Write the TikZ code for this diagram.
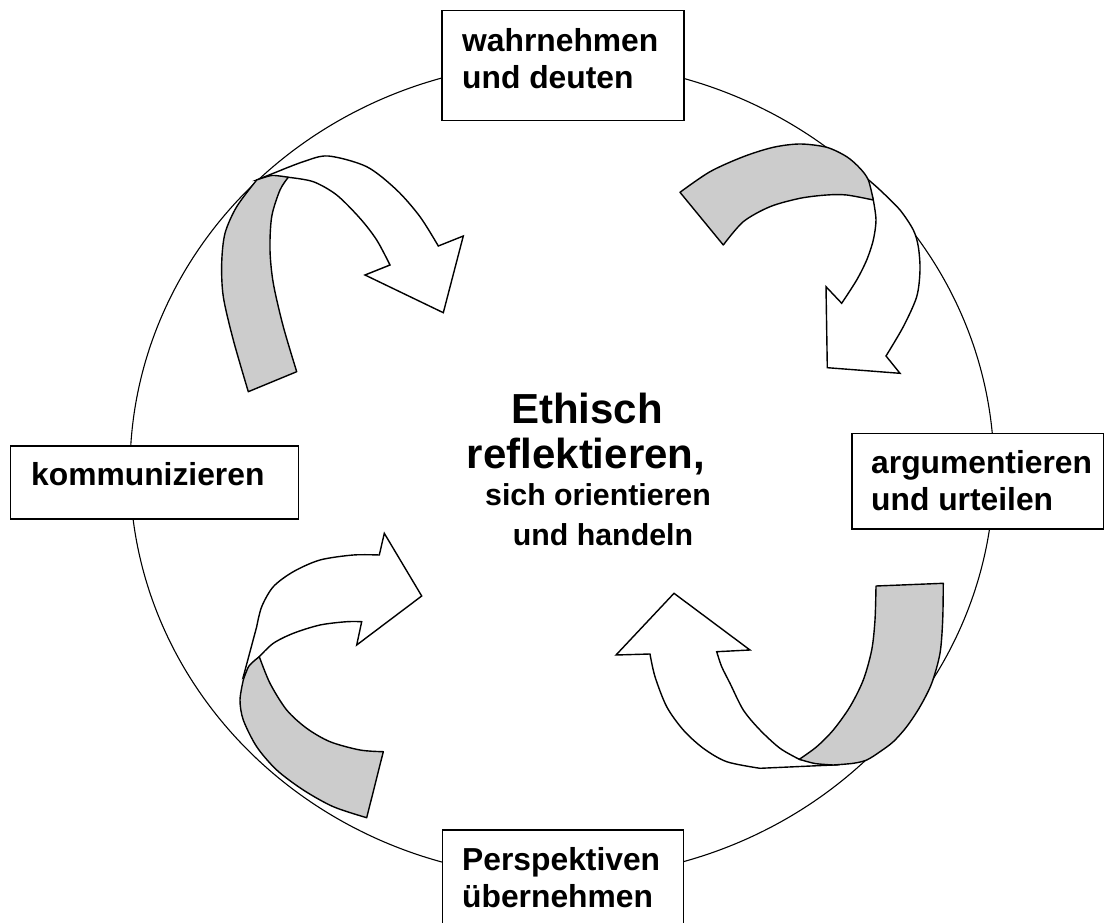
\documentclass[tikz,border=0pt]{standalone}
\usepackage{fontspec}
\setmainfont{Liberation Sans}
\begin{document}
\begin{tikzpicture}[x=1pt,y=-1pt,
  band/.style={draw=black, line width=1.4pt, fill=black!20, line join=round},
  wband/.style={draw=black, line width=1.4pt, fill=white, line join=miter},
  box/.style={draw=black, line width=1.5pt, fill=white, rectangle, inner sep=0pt, anchor=north west},
  lbl/.style={font=\fontsize{31.8}{37}\selectfont\bfseries, inner sep=0pt, anchor=base west},
  big/.style={font=\fontsize{42}{48}\selectfont\bfseries, inner sep=0pt, anchor=base},
  small/.style={font=\fontsize{30.3}{36}\selectfont\bfseries, inner sep=0pt, anchor=base}]
\useasboundingbox (0,0) rectangle (1104,923);
\draw[line width=1.1pt] (562,470) ellipse [x radius=432, y radius=408];

% arrow 1 (top left)
\filldraw[wband] plot[smooth] coordinates {(288.3,177.3) (313.3,181.7) (336.7,195) (360,218.3) (376.7,240) (390,265)} -- (365,275) -- (443.3,312.7) -- (463.3,236) -- (438.3,246) -- plot[smooth] coordinates {(438.3,246) (420,216.7) (396.7,190) (366.7,166.7) (328.3,156) (303.3,161.7) (273.3,173.3) (256.7,180)} -- cycle;
\filldraw[band] plot[smooth] coordinates {(256.7,180) (236.7,206.7) (225,233.3) (221.7,263.3) (223.3,296.7) (233.3,340) (248.3,391.7)} -- (296.7,371.7) -- plot[smooth] coordinates {(296.7,371.7) (283.3,326.7) (273.3,283.3) (270,250) (271.7,216.7) (280,190) (288.3,177.3)} -- plot[smooth] coordinates {(288.3,177.3) (272,175.5) (256.7,180)} -- cycle;

% arrow 2 (top right)
\filldraw[wband] plot[smooth] coordinates {(873.3,200) (876,220) (873.3,240) (866.7,260) (856.7,280) (841.7,303.3)} -- (826,286.7) -- (827.3,367.7) -- (900,373.3) -- (886,356) -- plot[smooth] coordinates {(886,356) (903.3,326.7) (916.7,296.7) (920,270) (918.3,246.7) (913.3,230) (900,210) (880,190) (866.7,178.3)} -- cycle;
\filldraw[band] plot[smooth] coordinates {(680,192.3) (710,171.7) (743.3,156.7) (773.3,147.3) (800,144) (826.7,147.3) (846.7,156.7) (860,168.3) (868.3,180) (873.3,200)} -- plot[smooth] coordinates {(873.3,200) (846.7,195) (826.7,195) (800,198.3) (770,206.7) (743.3,221.7) (723.3,245)} -- cycle;

% arrow 3 (bottom left)
\filldraw[wband] plot[smooth] coordinates {(259.3,656.7) (273.3,643.3) (293.3,633.3) (320,625) (346.7,621.7) (361.7,621.7)} -- (356.7,645) -- (421.7,596) -- (384.3,533.3) -- (379.3,555) -- plot[smooth] coordinates {(379.3,555) (353.3,555) (320,560) (293.3,571.7) (273.3,586.7) (261.7,606.7) (256.7,626.7)} -- (243.3,676.7) -- cycle;
\filldraw[band] plot[smooth] coordinates {(259.3,656.7) (270,683.3) (286.7,710) (306.7,728.3) (330,741.7) (360,750) (383.3,751.7)} -- (366.7,817.7) -- plot[smooth] coordinates {(366.7,817.7) (333.3,806.7) (303.3,790) (276.7,770) (256.7,746.7) (243.3,720) (240,700) (243.3,680)} -- plot[smooth] coordinates {(243.3,680) (249,666) (259.3,656.7)} -- cycle;

% arrow 4 (bottom right)
\filldraw[wband] plot[smooth] coordinates {(799.3,759.3) (780,748.3) (760,730) (743.3,710) (730,683.3) (721.7,666.7) (716.7,651.7)} -- (750,650) -- (674,593.3) -- (616,655) -- (650,654) -- plot[smooth] coordinates {(650,654) (655,676.7) (666.7,706.7) (683.3,730) (703.3,748.3) (726.7,761.7) (760,768.3)} -- (833.3,765) -- cycle;
\filldraw[band] (876,586) -- (943.3,583.3) -- plot[smooth] coordinates {(943.3,583.3) (942.7,620) (940,653.3) (931.7,683.3) (920,706.7) (906.7,726.7) (893.3,741.7) (880,751.7) (866.7,760) (853.3,763.3) (833.3,765)} -- plot[smooth] coordinates {(833.3,765) (815,763.5) (799.3,759.3)} -- plot[smooth] coordinates {(799.3,759.3) (816.7,746.7) (833.3,730) (850,706.7) (863.3,680) (871.7,650) (875,620) (876,586)} -- cycle;

% boxes
\node[box, minimum width=242pt, minimum height=110pt] (btop) at (441,10) {};
\node[box, minimum width=288pt, minimum height=73pt] (bleft) at (9.5,445) {};
\node[box, minimum width=252pt, minimum height=95.5pt] (bright) at (851,432.7) {};
\node[box, minimum width=241pt, minimum height=110pt] (bbot) at (441.7,829.3) {};

\node[lbl] (w1) at (462,52) {wahrnehmen};
\node[lbl] (w2) at (462,89) {und deuten};
\node[lbl] (k1) at (31,485) {kommunizieren};
\node[lbl] (a1) at (871,473) {argumentieren};
\node[lbl] (a2) at (871,510) {und urteilen};
\node[lbl] (p1) at (462,870) {Perspektiven};
\node[lbl] (p2) at (462,907) {übernehmen};

% centre
\node[big] (t1) at (587,423) {Ethisch};
\node[big] (t2) at (586,468) {reflektieren,};
\node[small] (t3) at (598,505) {sich orientieren};
\node[small] (t4) at (603,545) {und handeln};
\end{tikzpicture}
\end{document}
